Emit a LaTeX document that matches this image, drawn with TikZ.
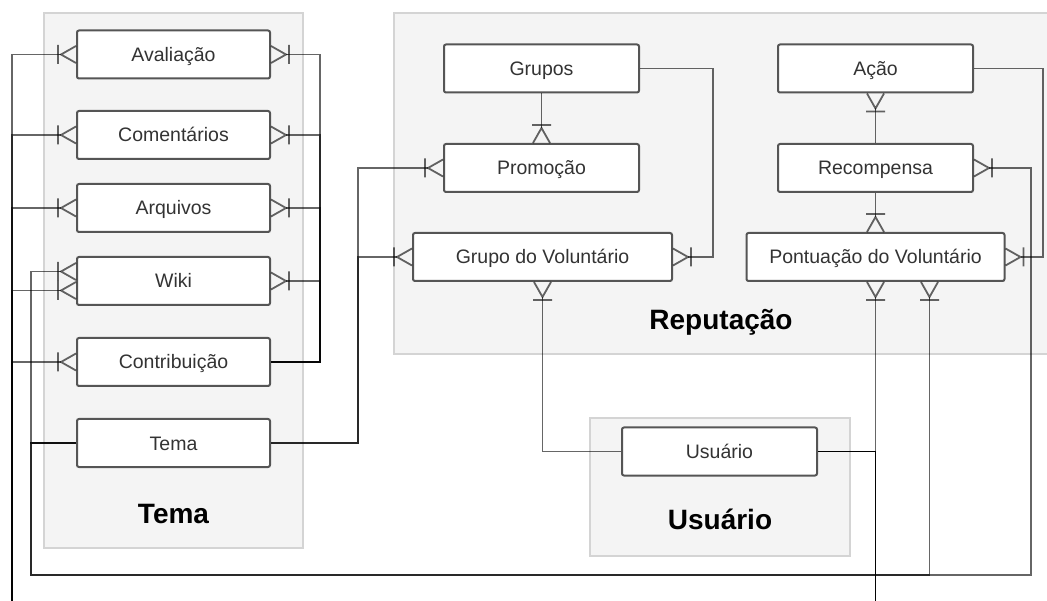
\documentclass[tikz,border=0pt]{standalone}
\usepackage{fontspec}
\setmainfont{Liberation Sans}
\usetikzlibrary{calc}

\definecolor{grpfill}{HTML}{F4F4F4}
\definecolor{grpline}{HTML}{D4D4D4}
\definecolor{boxline}{HTML}{555555}
\definecolor{txt}{HTML}{333333}

% crow's foot with a bar: "one or many" end of a relation
\pgfdeclarearrow{
  name = Crow,
  setup code = {
    \pgfarrowssettipend{0pt}
    \pgfarrowssetlineend{-15pt}
    \pgfarrowssetbackend{-18pt}
    \pgfarrowsupperhullpoint{0pt}{9pt}
    \pgfarrowsupperhullpoint{-18pt}{9pt}
  },
  drawing code = {
    \pgfpathmoveto{\pgfqpoint{0pt}{8.5pt}}
    \pgfpathlineto{\pgfqpoint{-15pt}{0pt}}
    \pgfpathlineto{\pgfqpoint{0pt}{-8.5pt}}
    \pgfpathmoveto{\pgfqpoint{-18pt}{9.5pt}}
    \pgfpathlineto{\pgfqpoint{-18pt}{-9.5pt}}
    \pgfusepathqstroke
  }
}

\tikzset{
  entity/.style={draw=boxline, line width=2pt, fill=white, rounded corners=2pt,
    minimum width=193pt, minimum height=48pt, inner sep=0pt,
    font=\fontsize{19.5}{23}\selectfont, text=txt, text height=14pt, text depth=0pt},
  grp/.style={draw=grpline, line width=2.2pt, fill=grpfill, inner sep=0pt},
  grplabel/.style={font=\fontsize{28}{32}\selectfont\bfseries, anchor=base, inner sep=0pt},
  rel/.style={draw=black, draw opacity=0.6, line width=1.8pt},
  many/.style={rel, -{Crow}},
}

\begin{document}
\begin{tikzpicture}[x=1pt, y=-1pt]
\useasboundingbox (0,0) rectangle (1047,601);
\clip (0,0) rectangle (1047,601);

% packages
\node[grp, minimum width=259pt, minimum height=535pt] (gTema) at (173.5,280.5) {};
\node[grp, minimum width=676pt, minimum height=341pt] (gRep) at (732,183.5) {};
\node[grp, minimum width=260pt, minimum height=138pt] (gUsr) at (720,487) {};
\node[grplabel] (lTema) at (173.5,523) {Tema};
\node[grplabel] (lRep) at (721,330) {Reputação};
\node[grplabel] (lUsr) at (720,529) {Usuário};

% entities of Tema
\node[entity] (aval)    at (173.5,54.5) {Avaliação};
\node[entity] (coment)  at (173.5,135)  {Comentários};
\node[entity] (arq)     at (173.5,208)  {Arquivos};
\node[entity] (wiki)    at (173.5,281)  {Wiki};
\node[entity] (contrib) at (173.5,362)  {Contribuição};
\node[entity] (tema)    at (173.5,443)  {Tema};

% entities of Reputação
\node[entity, minimum width=195pt] (grupos) at (541.5,68.5) {Grupos};
\node[entity, minimum width=195pt] (promo)  at (541.5,168)  {Promoção};
\node[entity, minimum width=259pt] (gdv)    at (542.5,257)  {Grupo do Voluntário};
\node[entity, minimum width=195pt] (acao)   at (875.5,68.5) {Ação};
\node[entity, minimum width=195pt] (recomp) at (875.5,168)  {Recompensa};
\node[entity, minimum width=258pt] (pont)   at (875.5,257)  {Pontuação do Voluntário};

% entity of Usuário
\node[entity, minimum width=195pt] (usuario) at (719.5,451.5) {Usuário};

% routing points
\coordinate (ub) at (875.5,625);
\coordinate (lb) at (12,625);
\coordinate (rtrunk) at (320,0);
\coordinate (ltrunk) at (31,0);
\coordinate (mtrunk) at (358,0);
\coordinate (gtrunk) at (713,0);
\coordinate (atrunk) at (1043,0);
\coordinate (bl) at (31,575);
\coordinate (br) at (1031,575);

% Usuário -> Tema entities (left side)
\foreach \t in {aval,coment,arq,contrib}
  \draw[many] (usuario.east) -| (ub) -- (lb) |- (\t.west);
\draw[many] (usuario.east) -| (ub) -- (lb) |- ($(wiki.west)+(0,9.5)$);

% Contribuição -> Tema entities (right side)
\foreach \t in {aval,coment,arq,wiki}
  \draw[many] (contrib.east) -- (contrib.east -| rtrunk) |- (\t.east);

% Tema -> Wiki, Pontuação, Recompensa
\draw[many] (tema.west) -- (tema.west -| ltrunk) |- ($(wiki.west)+(0,-9.5)$);
\draw[many] (tema.west) -| (bl) -| ($(pont.south)+(54,0)$);
\draw[many] (tema.west) -| (bl) -- (br) |- (recomp.east);

% Tema -> Promoção, Grupo do Voluntário
\draw[many] (tema.east) -- (tema.east -| mtrunk) |- (promo.west);
\draw[many] (tema.east) -- (tema.east -| mtrunk) |- (gdv.west);

% Reputação relations
\draw[many] (grupos.south) -- (promo.north);
\draw[many] (grupos.east) -- (grupos.east -| gtrunk) |- (gdv.east);
\draw[many] (usuario.west) -| (gdv.south);
\draw[many] (recomp.north) -- (acao.south);
\draw[many] (recomp.south) -- (pont.north);
\draw[many] (acao.east) -- (acao.east -| atrunk) |- (pont.east);
\draw[many] (usuario.east) -| (pont.south);
\end{tikzpicture}
\end{document}
